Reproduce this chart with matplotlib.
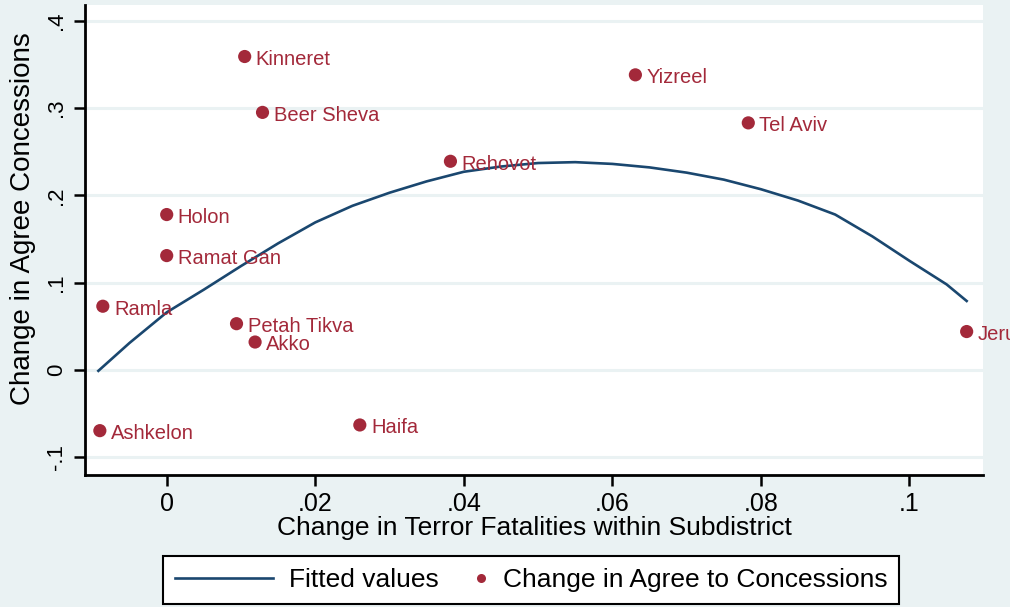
import matplotlib
matplotlib.use("Agg")
import matplotlib.pyplot as plt
from matplotlib.lines import Line2D
from matplotlib.legend_handler import HandlerBase
from matplotlib.patches import Rectangle

# ---- data ----
districts = ["Kinneret", "Yizreel", "Beer Sheva", "Tel Aviv", "Rehovot", "Holon",
             "Ramat Gan", "Ramla", "Petah Tikva", "Akko", "Jerusalem", "Haifa", "Ashkelon"]
fatal_change = [0.0105, 0.0631, 0.0129, 0.0783, 0.0382, 0.0000,
                0.0000, -0.0086, 0.0094, 0.0119, 0.1077, 0.0260, -0.0090]
agree_change = [0.359, 0.338, 0.295, 0.283, 0.239, 0.178,
                0.131, 0.073, 0.053, 0.032, 0.044, -0.063, -0.0695]

fit_x = [-0.0092, -0.005, 0.0, 0.005, 0.01, 0.015, 0.02, 0.025, 0.03, 0.035,
         0.04, 0.045, 0.05, 0.055, 0.06, 0.065, 0.07, 0.075, 0.08, 0.085,
         0.09, 0.095, 0.1, 0.105, 0.1077]
fit_y = [-0.001, 0.031, 0.066, 0.092, 0.119, 0.145, 0.169, 0.188, 0.203, 0.216,
         0.227, 0.233, 0.237, 0.238, 0.236, 0.232, 0.226, 0.218, 0.207, 0.194,
         0.178, 0.153, 0.125, 0.098, 0.079]

xticks = [0, 0.02, 0.04, 0.06, 0.08, 0.1]
xticklabels = ["0", ".02", ".04", ".06", ".08", ".1"]
yticks = [-0.1, 0, 0.1, 0.2, 0.3, 0.4]
yticklabels = ["-.1", "0", ".1", ".2", ".3", ".4"]

# ---- style ----
BG = "#eaf2f3"
RED = "#a3293a"
NAVY = "#1a476f"
FONT = ["Liberation Sans", "DejaVu Sans"]

W, H = 1019, 607
fig = plt.figure(figsize=(W / 100, H / 100), dpi=100, facecolor=BG)
ax = fig.add_axes([85 / W, 1 - 475 / H, (983 - 85) / W, (475 - 5) / H])
ax.set_facecolor("white")

ax.set_xlim(-0.0110, 0.1099)
ax.set_ylim(-0.1203, 0.418)

for s in ["top", "right"]:
    ax.spines[s].set_visible(False)
for s in ["left", "bottom"]:
    ax.spines[s].set_linewidth(2)
    ax.spines[s].set_color("black")

ax.set_yticks(yticks)
ax.set_yticklabels(yticklabels, rotation=90, va="center", family=FONT, fontsize=16)
ax.set_xticks(xticks)
ax.set_xticklabels(xticklabels, family=FONT, fontsize=18)
ax.tick_params(axis="both", direction="out", length=8, width=1.8, color="black")
ax.tick_params(axis="x", pad=4)
ax.tick_params(axis="y", pad=5)
ax.yaxis.grid(True, color=BG, linewidth=2.2)
ax.set_axisbelow(True)

ax.plot(fit_x, fit_y, color=NAVY, lw=1.9, zorder=3, label="Fitted values",
        solid_joinstyle="round")
ax.scatter(fatal_change, agree_change, s=90, color=RED, zorder=4, edgecolors="none")

for name, xv, yv in zip(districts, fatal_change, agree_change):
    ax.annotate(name, (xv, yv), xytext=(8, -2), textcoords="offset points",
                color=RED, fontsize=14.5, family=FONT, va="center", ha="left",
                annotation_clip=False, zorder=5)

ax.set_xlabel("Change in Terror Fatalities within Subdistrict", family=FONT,
              fontsize=19, labelpad=0)
ax.set_ylabel("Change in Agree Concessions", family=FONT, fontsize=20)
ax.yaxis.set_label_coords((36 - 85) / 898, (475 - 219) / 470)


class RightMarkerHandler(HandlerBase):
    def create_artists(self, legend, orig_handle, xdescent, ydescent, width,
                       height, fontsize, trans):
        m = Line2D([-xdescent + width * 0.95], [(height - ydescent) / 2],
                   marker="o", ls="none", color=orig_handle.get_color(),
                   markersize=orig_handle.get_markersize(), markeredgewidth=0)
        m.set_transform(trans)
        return [m]


h_line = Line2D([], [], color=NAVY, lw=1.9)
h_mark = Line2D([], [], color=RED, marker="o", ls="none", markersize=6.5,
                markeredgewidth=0)
leg = fig.legend([h_line, h_mark], ["Fitted values", "Change in Agree to Concessions"],
                 loc="upper left", bbox_to_anchor=(163 / W, 1 - 556 / H),
                 ncol=2, frameon=True, fancybox=False, edgecolor="black",
                 framealpha=1, borderaxespad=0, prop={"family": FONT, "size": 19},
                 handlelength=3.7, handletextpad=0.64, columnspacing=-1.93,
                 borderpad=0.45,
                 handler_map={h_mark: RightMarkerHandler()})
leg.get_frame().set_linewidth(1.5)

# white strip at right edge (clips overflowing labels like in reference)
fig.add_artist(Rectangle((1010 / W, 0), 1 - 1010 / W, 1, transform=fig.transFigure,
                         facecolor="white", edgecolor="none", zorder=20))

fig.savefig("out.png", dpi=100, facecolor=BG)
